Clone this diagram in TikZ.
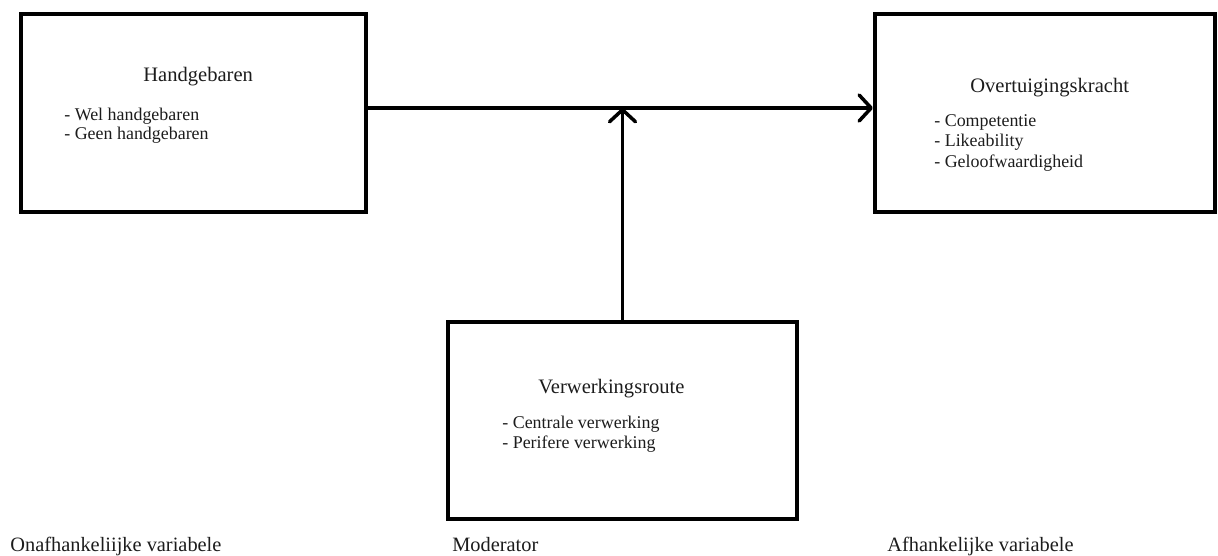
\documentclass[tikz,border=0pt]{standalone}
\usepackage{fontspec}
\setmainfont{Liberation Serif}
\usepackage{tikz}
\usetikzlibrary{positioning, arrows.meta}
\definecolor{inkTxt}{HTML}{1c1c1c}

\begin{document}
\begin{tikzpicture}[x=0.02cm, y=-0.02cm,
  box/.style={draw, line width=2.4pt, inner sep=0pt},
  ttl/.style={font=\fontsize{11.7}{14}\selectfont, text=inkTxt, anchor=base west, inner sep=0pt},
  itm/.style={font=\fontsize{10.2}{12}\selectfont, text=inkTxt, anchor=base west, inner sep=0pt},
  lbl/.style={font=\fontsize{11.6}{14}\selectfont, text=inkTxt, anchor=base west, inner sep=0pt},
  conn/.style={line width=2pt, -{Straight Barb[length=0.24cm, width=0.52cm, round]}}]
\useasboundingbox (0,0) rectangle (1218,555);
% boxes
\node[box, minimum width=6.9cm, minimum height=3.96cm] (hand) at (193.5,113) {};
\node[box, minimum width=6.8cm, minimum height=3.96cm] (overt) at (1045,113) {};
\node[box, minimum width=6.98cm, minimum height=3.94cm] (route) at (622.5,420.5) {};
% box texts
\node[ttl] (handT) at (143,81) {Handgebaren};
\node[itm] (handA) at (64,120) {- Wel handgebaren};
\node[itm] (handB) at (64,139) {- Geen handgebaren};
\node[ttl] (overtT) at (970,92) {Overtuigingskracht};
\node[itm] (overtA) at (934,126) {- Competentie};
\node[itm] (overtB) at (934,146.5) {- Likeability};
\node[itm] (overtC) at (934,167) {- Geloofwaardigheid};
\node[ttl] (routeT) at (538,393) {Verwerkingsroute};
\node[itm] (routeA) at (502,428) {- Centrale verwerking};
\node[itm] (routeB) at (502,448) {- Perifere verwerking};
% column labels
\node[lbl] (onafh) at (10,551) {Onafhankeliijke variabele};
\node[lbl] (moder) at (452,551) {Moderator};
\node[lbl] (afh) at (887,551) {Afhankelijke variabele};
% connectors
\coordinate (mid) at (621,108);
\draw[conn] (hand.east |- mid) -- (overt.west |- mid);
\draw[conn] (route.north) -- (route.north |- mid);
\end{tikzpicture}
\end{document}
